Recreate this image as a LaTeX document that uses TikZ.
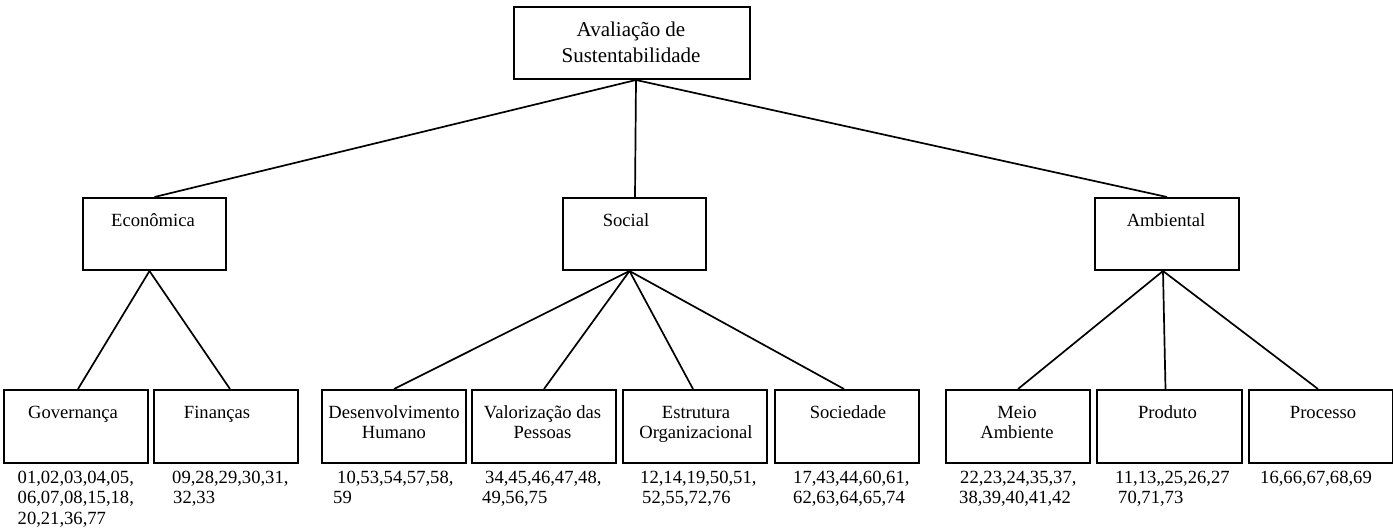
\documentclass[tikz,border=0pt]{standalone}
\usepackage{fontspec}
\setmainfont{Liberation Serif}
\begin{document}
\begin{tikzpicture}[x=1pt,y=-1pt,
  box/.style={draw, line width=2pt, inner sep=0pt, anchor=north west},
  link/.style={line width=1.7pt},
  lbl/.style={inner sep=0pt, anchor=base, font=\fontsize{18.6}{20.5}\selectfont},
  nums/.style={inner sep=0pt, anchor=base west, font=\fontsize{18.6}{20.5}\selectfont},
  toplbl/.style={lbl, font=\fontsize{21}{26}\selectfont},
]
\useasboundingbox (0,0) rectangle (1393,530);

% root
\node[box, minimum width=236pt, minimum height=72pt] (root) at (513,6) {};
\node[toplbl] (roott) at (631,36) {\begin{tabular}[t]{@{}c@{}}Avaliação de\\Sustentabilidade\end{tabular}};

% dimensions
\node[box, minimum width=143pt, minimum height=72pt] (eco) at (82,197) {};
\node[box, minimum width=143pt, minimum height=72pt] (soc) at (562,197) {};
\node[box, minimum width=144pt, minimum height=72pt] (amb) at (1094,197) {};
\node[lbl] (ecot) at (153,226) {Econômica};
\node[lbl] (soct) at (626,226) {Social};
\node[lbl] (ambt) at (1166,226) {Ambiental};

% themes
\node[box, minimum width=144pt, minimum height=73pt] (gov) at (3,389) {};
\node[box, minimum width=144pt, minimum height=73pt] (fin) at (153,389) {};
\node[box, minimum width=144pt, minimum height=73pt] (des) at (321,389) {};
\node[box, minimum width=144pt, minimum height=73pt] (val) at (471,389) {};
\node[box, minimum width=144pt, minimum height=73pt] (est) at (622,389) {};
\node[box, minimum width=144pt, minimum height=73pt] (sdd) at (774,389) {};
\node[box, minimum width=144pt, minimum height=73pt] (mei) at (945,389) {};
\node[box, minimum width=145pt, minimum height=73pt] (pro) at (1096,389) {};
\node[box, minimum width=144pt, minimum height=73pt] (prc) at (1248,389) {};

\node[lbl] (govt) at (73,418) {Governança};
\node[lbl] (fint) at (217,418) {Finanças};
\node[lbl] (dest) at (394,418) {\begin{tabular}[t]{@{}c@{}}Desenvolvimento\\Humano\end{tabular}};
\node[lbl] (valt) at (542.5,418) {\begin{tabular}[t]{@{}c@{}}Valorização das\\Pessoas\end{tabular}};
\node[lbl] (estt) at (696,418) {\begin{tabular}[t]{@{}c@{}}Estrutura\\Organizacional\end{tabular}};
\node[lbl] (sddt) at (848,418) {Sociedade};
\node[lbl] (meit) at (1017,418) {\begin{tabular}[t]{@{}c@{}}Meio\\Ambiente\end{tabular}};
\node[lbl] (prot) at (1167.5,418) {Produto};
\node[lbl] (prct) at (1323,418) {Processo};

% indicator numbers
\node[nums] (govn) at (17.5,483) {\begin{tabular}[t]{@{}l@{}}01,02,03,04,05,\\06,07,08,15,18,\\20,21,36,77\end{tabular}};
\node[nums] (finn) at (172,483) {\begin{tabular}[t]{@{}l@{}}09,28,29,30,31,\\\hspace{1pt}32,33\end{tabular}};
\node[nums] (desn) at (333,483) {\begin{tabular}[t]{@{}l@{}}\hspace{4pt}10,53,54,57,58,\\59\end{tabular}};
\node[nums] (valn) at (482,483) {\begin{tabular}[t]{@{}l@{}}\hspace{3pt}34,45,46,47,48,\\49,56,75\end{tabular}};
\node[nums] (estn) at (640,483) {\begin{tabular}[t]{@{}l@{}}12,14,19,50,51,\\\hspace{2pt}52,55,72,76\end{tabular}};
\node[nums] (sddn) at (793,483) {\begin{tabular}[t]{@{}l@{}}17,43,44,60,61,\\62,63,64,65,74\end{tabular}};
\node[nums] (mein) at (959,483) {\begin{tabular}[t]{@{}l@{}}\hspace{1pt}22,23,24,35,37,\\38,39,40,41,42\end{tabular}};
\node[nums] (pron) at (1115,483) {\begin{tabular}[t]{@{}l@{}}11,13,,25,26,27\\\hspace{3pt}70,71,73\end{tabular}};
\node[nums] (prcn) at (1260,483) {16,66,67,68,69};

% connectors
\draw[link] ([xshift=4pt]root.south) -- (eco.north);
\draw[link] ([xshift=4pt]root.south) -- ([xshift=0.5pt]soc.north);
\draw[link] ([xshift=4pt]root.south) -- (amb.north);

\draw[link] ([xshift=-5pt]eco.south) -- ([xshift=2pt]gov.north);
\draw[link] ([xshift=-5pt]eco.south) -- ([xshift=4pt]fin.north);

\draw[link] ([xshift=-5pt]soc.south) -- (des.north);
\draw[link] ([xshift=-5pt]soc.south) -- (val.north);
\draw[link] ([xshift=-5pt]soc.south) -- ([xshift=-2pt]est.north);
\draw[link] ([xshift=-5pt]soc.south) -- ([xshift=-3pt]sdd.north);

\draw[link] ([xshift=-4pt]amb.south) -- (mei.north);
\draw[link] ([xshift=-4pt]amb.south) -- ([xshift=-4pt]pro.north);
\draw[link] ([xshift=-4pt]amb.south) -- ([xshift=-3pt]prc.north);
\end{tikzpicture}
\end{document}
